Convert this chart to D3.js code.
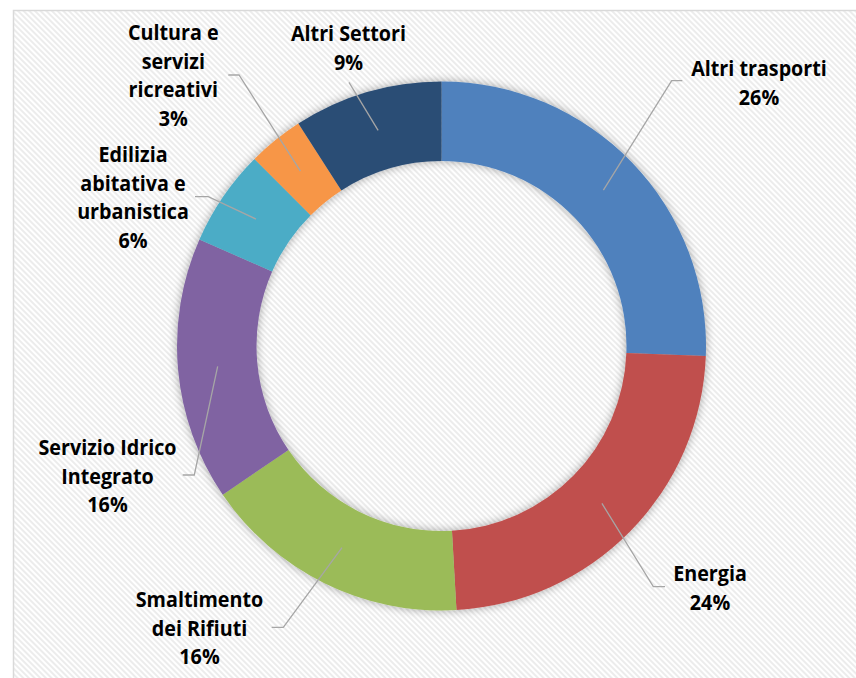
<!DOCTYPE html>
<html><head><meta charset="utf-8">
<script src="https://cdn.jsdelivr.net/npm/d3@7"></script>
<style>body{margin:0;background:#fff}svg{display:block}</style>
</head><body><svg id="c" width="856" height="678"></svg>
<script>
const categories = ["Altri trasporti","Energia","Smaltimento dei Rifiuti","Servizio Idrico Integrato","Edilizia abitativa e urbanistica","Cultura e servizi ricreativi","Altri Settori"];
const values = [25.6, 23.5, 16.4, 16.1, 5.9, 3.4, 9.1];
const colors = ["#4F81BD","#C0504D","#9BBB59","#8064A2","#4BACC6","#F79646","#2C4D75"];
const labelLines = [["Altri trasporti"],["Energia"],["Smaltimento","dei Rifiuti"],["Servizio Idrico","Integrato"],["Edilizia","abitativa e","urbanistica"],["Cultura e","servizi","ricreativi"],["Altri Settori"]];
// annotation layout (label text centre x / first baseline y, leader elbow, leader end x)
const labelPos = [[759,76],[710,581],[199.5,607],[107.5,455],[133,162],[173.3,40],[348.5,41]];
const leaderElbow = [[671.7,80.7],[653.3,586.7],[283.3,627.3],[194.3,475],[208.3,196.7],[239,75],[349,82.3]];
const leaderEnd = [682.3,665,271.7,182.7,195,228.3,null];

const svg = d3.select("#c");
const W = 856, H = 678;
const defs = svg.append("defs");
const pat = defs.append("pattern").attr("id","stripes").attr("patternUnits","userSpaceOnUse")
  .attr("width",4).attr("height",4).attr("patternTransform","rotate(-45)");
pat.append("rect").attr("width",4).attr("height",4).attr("fill","#ffffff");
pat.append("rect").attr("width",2).attr("height",4).attr("fill","#ececec");
const f = defs.append("filter").attr("id","sh").attr("x","-20%").attr("y","-20%").attr("width","140%").attr("height","140%");
f.append("feGaussianBlur").attr("in","SourceAlpha").attr("stdDeviation",5).attr("result","b");
f.append("feComponentTransfer").attr("in","b").attr("result","b2")
  .append("feFuncA").attr("type","linear").attr("slope",0.35);
const m = f.append("feMerge");
m.append("feMergeNode").attr("in","b2");
m.append("feMergeNode").attr("in","SourceGraphic");

svg.append("rect").attr("x",13.5).attr("y",10.5).attr("width",W).attr("height",H)
  .attr("fill","url(#stripes)").attr("stroke","#d9d9d9").attr("stroke-width",1.5);

const cx = 441.5, cy = 346, R = 264.5, r = 185;
const total = d3.sum(values);
const pie = d3.pie().sort(null).value(d=>d).startAngle(0).endAngle(2*Math.PI);
const arcs = pie(values);
const arc = d3.arc().innerRadius(r).outerRadius(R);
const g = svg.append("g").attr("transform",`translate(${cx},${cy})`);
g.append("g").attr("filter","url(#sh)").selectAll("path").data(arcs).join("path")
  .attr("d",arc).attr("fill",(d,i)=>colors[i]);

// leader lines
const lines = svg.append("g");
arcs.forEach((d,i)=>{
  const c = arc.centroid(d);
  const pts = [[cx+c[0],cy+c[1]], leaderElbow[i]];
  if (leaderEnd[i] !== null) pts.push([leaderEnd[i], leaderElbow[i][1]]);
  lines.append("path").attr("d",d3.line()(pts)).attr("fill","none")
    .attr("stroke","#a6a6a6").attr("stroke-width",1.3);
});

// labels
const sx = 0.94, lh = 28.7;
arcs.forEach((d,i)=>{
  const t = labelLines[i].concat([Math.round(values[i]/total*100)+"%"]);
  const tg = svg.append("g").attr("transform",`translate(${labelPos[i][0]},${labelPos[i][1]}) scale(${sx},1)`);
  tg.selectAll("text").data(t).join("text")
    .attr("x",0).attr("y",(s,k)=>k*lh).attr("text-anchor","middle")
    .attr("font-family","'Open Sans', sans-serif").attr("font-weight",700)
    .attr("font-size",21).attr("fill","#000").text(s=>s);
});
</script></body></html>
